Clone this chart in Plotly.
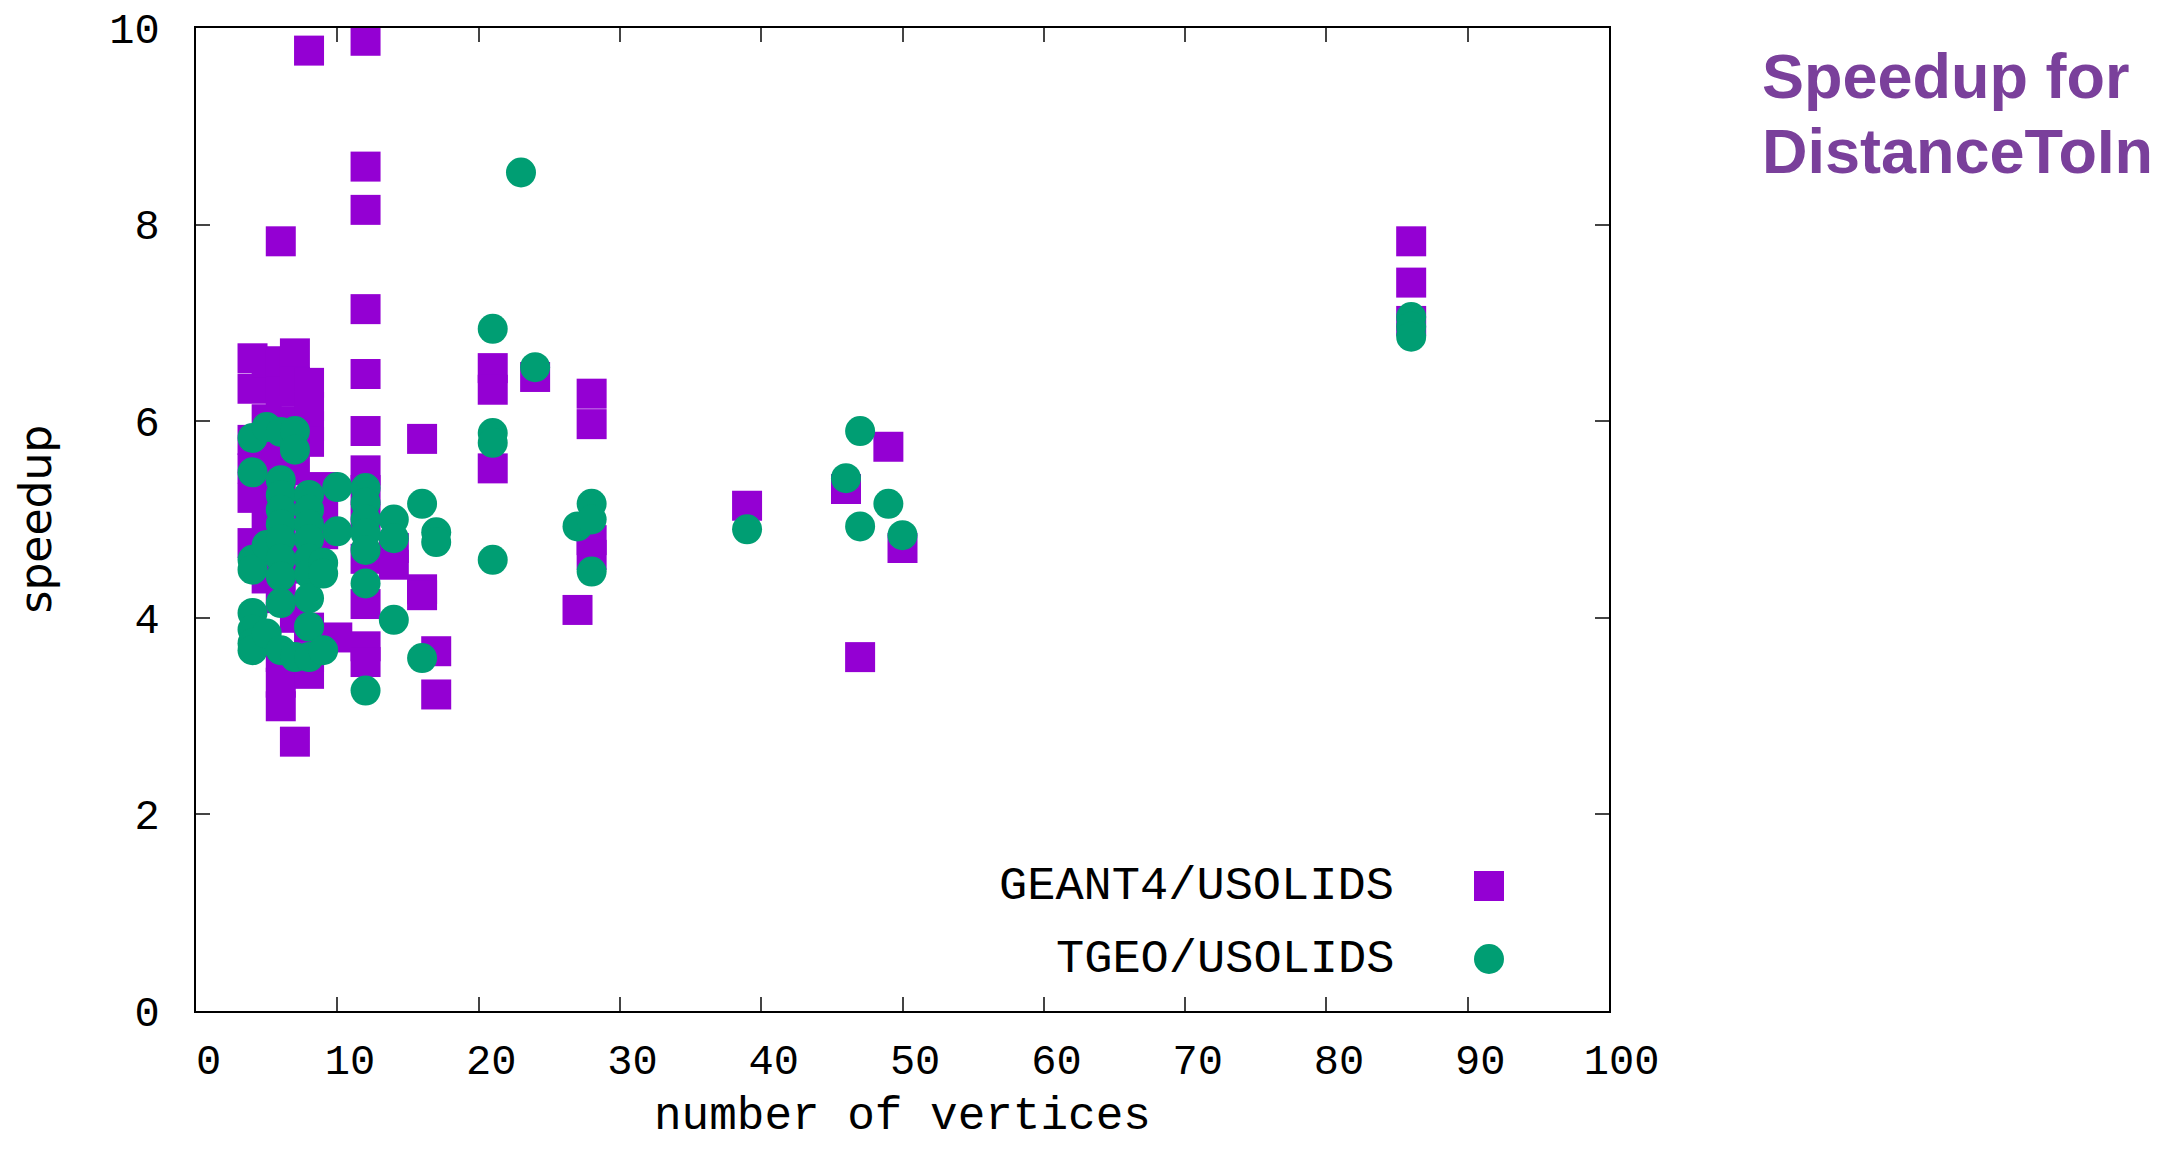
import plotly.graph_objects as go

# GEANT4/USOLIDS speedup
g4_vertices = ([4]*6 + [5]*5 + [6]*10 + [7]*7 + [8]*10 + [9]*3 + [10] + [12]*13 +
               [14]*2 + [16]*3 + [17]*2 + [21]*3 + [24] + [27] + [28]*4 + [39] + [46] +
               [47] + [49] + [50] + [86]*3)
g4_speedup = [6.64, 6.33, 5.81, 5.52, 5.22, 4.76,
              6.60, 6.02, 5.60, 5.00, 4.40,
              7.83, 6.61, 6.30, 5.90, 5.30, 4.80, 4.20, 3.60, 3.34, 3.10,
              6.69, 6.40, 6.00, 5.50, 4.60, 4.00, 2.74,
              9.77, 6.39, 6.15, 5.95, 5.79, 5.10, 4.50, 3.90, 3.60, 3.43,
              5.33, 5.10, 4.85,
              3.80,
              9.87, 8.59, 8.15, 7.14, 6.48, 5.90, 5.50, 5.30, 5.00, 4.60, 4.14, 3.71, 3.55,
              4.71, 4.54,
              5.82, 4.29, 4.23,
              3.66, 3.22,
              6.54, 6.32, 5.52,
              6.45,
              4.08,
              6.28, 5.97, 4.79, 4.64,
              5.14,
              5.31,
              3.60,
              5.74,
              4.71,
              7.83, 7.41, 7.02]

# TGEO/USOLIDS speedup
tgeo_vertices = ([4]*8 + [5]*3 + [6]*10 + [7]*3 + [8]*9 + [9]*3 + [10]*2 + [12]*7 +
                 [14]*3 + [16]*2 + [17]*2 + [21]*4 + [23] + [24] + [27] + [28]*3 + [39] +
                 [46] + [47]*2 + [49] + [50] + [86]*3)
tgeo_speedup = [5.83, 5.48, 4.59, 4.49, 4.05, 3.88, 3.74, 3.67,
                5.94, 4.74, 3.84,
                5.89, 5.40, 5.25, 5.10, 4.95, 4.80, 4.60, 4.42, 4.15, 3.67,
                5.90, 5.71, 3.60,
                5.25, 5.10, 4.95, 4.80, 4.60, 4.45, 4.20, 3.91, 3.60,
                4.56, 4.45, 3.67,
                5.33, 4.88,
                5.32, 5.17, 5.00, 4.86, 4.69, 4.35, 3.26,
                5.00, 4.81, 3.98,
                5.16, 3.59,
                4.87, 4.77,
                6.94, 5.88, 5.78, 4.59,
                8.53,
                6.55,
                4.93,
                5.16, 5.00, 4.47,
                4.90,
                5.42,
                5.90, 4.93,
                5.16,
                4.84,
                7.06, 6.96, 6.86]

x_ticks = [0, 10, 20, 30, 40, 50, 60, 70, 80, 90, 100]
y_ticks = [0, 2, 4, 6, 8, 10]
series_names = ["GEANT4/USOLIDS", "TGEO/USOLIDS"]

PURPLE = "#9400D3"
GREEN = "#009E73"
MONO = "Liberation Mono"

fig = go.Figure()
fig.add_trace(go.Scatter(x=g4_vertices, y=g4_speedup, mode="markers", name=series_names[0],
                         marker=dict(symbol="square", size=30, color=PURPLE, line=dict(width=0)),
                         showlegend=False))
fig.add_trace(go.Scatter(x=tgeo_vertices, y=tgeo_speedup, mode="markers", name=series_names[1],
                         marker=dict(symbol="circle", size=30, color=GREEN, line=dict(width=0)),
                         showlegend=False))

axis_common = dict(showline=True, linecolor="black", linewidth=2, mirror="allticks",
                   ticks="inside", ticklen=14, tickwidth=1.5, tickcolor="#444",
                   showgrid=False, zeroline=False,
                   tickfont=dict(family=MONO, size=42, color="black"))

fig.update_xaxes(range=[0, 100], tickvals=x_ticks,
                 ticktext=["\u00a0" + str(v) for v in x_ticks],
                 ticklabelstandoff=11, **axis_common)
fig.update_yaxes(range=[0, 10], tickvals=y_ticks, ticklabelstandoff=26, **axis_common)

L, R, T, B = 196, 555, 28, 138
W, H = 2164, 1149
pw, ph = W - L - R, H - T - B

def px_x(p):
    return (p - L) / pw

def px_y(p):
    return (H - B - p) / ph

annotations = [
    dict(text="number of vertices", xref="paper", yref="paper", x=0.5, y=px_y(1117),
         xanchor="center", yanchor="middle", showarrow=False,
         font=dict(family=MONO, size=46, color="black")),
    dict(text="speedup", xref="paper", yref="paper", x=px_x(35), y=0.5, textangle=-90,
         xanchor="center", yanchor="middle", showarrow=False,
         font=dict(family="DejaVu Sans", size=44, color="black")),
    dict(text=series_names[0], xref="paper", yref="paper", x=px_x(1396), y=px_y(886),
         xanchor="right", yanchor="middle", showarrow=False,
         font=dict(family=MONO, size=47, color="black")),
    dict(text=series_names[1], xref="paper", yref="paper", x=px_x(1396), y=px_y(959),
         xanchor="right", yanchor="middle", showarrow=False,
         font=dict(family=MONO, size=47, color="black")),
    dict(text="<b>Speedup for</b>", xref="paper", yref="paper", x=px_x(1760), y=px_y(76),
         xanchor="left", yanchor="middle", showarrow=False,
         font=dict(family="Liberation Sans", size=63, color="#7A409B")),
    dict(text="<b>DistanceToIn</b>", xref="paper", yref="paper", x=px_x(1760), y=px_y(151),
         xanchor="left", yanchor="middle", showarrow=False,
         font=dict(family="Liberation Sans", size=63, color="#7A409B")),
]

shapes = [
    dict(type="rect", xref="paper", yref="paper", xsizemode="pixel", ysizemode="pixel",
         xanchor=px_x(1489), yanchor=px_y(886), x0=-15, x1=15, y0=-15, y1=15,
         fillcolor=PURPLE, line=dict(width=0)),
    dict(type="circle", xref="paper", yref="paper", xsizemode="pixel", ysizemode="pixel",
         xanchor=px_x(1489), yanchor=px_y(959), x0=-15, x1=15, y0=-15, y1=15,
         fillcolor=GREEN, line=dict(width=0)),
]

fig.update_layout(width=W, height=H, margin=dict(l=L, r=R, t=T, b=B, autoexpand=False),
                  plot_bgcolor="white", paper_bgcolor="white",
                  annotations=annotations, shapes=shapes, showlegend=False)

fig.write_html("out.html")
